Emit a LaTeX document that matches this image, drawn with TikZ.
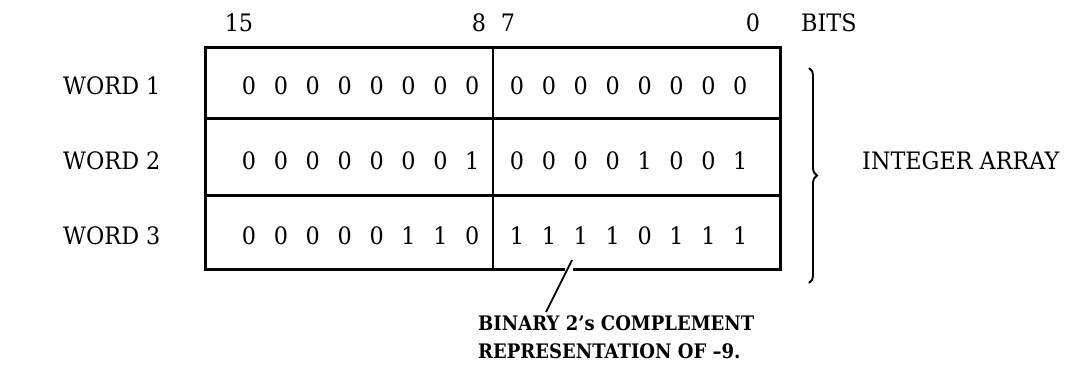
\documentclass[tikz,border=0pt]{standalone}
\usepackage{fontspec}
\setmainfont{DejaVu Serif}
\newfontfamily\labelfont[FakeStretch=0.93,Ligatures=TeX]{DejaVu Serif}
\newfontfamily\notefont[FakeStretch=0.9,Ligatures=TeX]{DejaVu Serif}
\usetikzlibrary{decorations.pathreplacing}
\begin{document}
\begin{tikzpicture}[x=1pt,y=-1pt,
  lbl/.style={font=\labelfont\fontsize{24}{28}\selectfont, inner sep=0pt},
  bit/.style={lbl, anchor=center},
  frame/.style={line width=3pt, line cap=rect},
  divider/.style={line width=2.4pt},
  note/.style={font=\notefont\bfseries\fontsize{20}{28}\selectfont, inner sep=0pt, anchor=base west},
  lead/.style={line width=1.8pt},
  bracket/.style={line width=1.9pt, decorate, decoration={brace, amplitude=8pt}}]
\useasboundingbox (0,0) rectangle (1081,372);

% outer frame of the three 16-bit words
\coordinate (nw) at (205,47);
\coordinate (ne) at (780,47);
\coordinate (sw) at (205,269);
\coordinate (se) at (780,269);
\coordinate (gapL) at (563,269);
\coordinate (gapR) at (574,269);
\draw[frame] (gapL) -- (sw) -- (nw) -- (ne) -- (se) -- (gapR);

% word separators and the byte divider
\coordinate (r1w) at (205,118);
\coordinate (r1e) at (780,118);
\coordinate (r2w) at (205,195);
\coordinate (r2e) at (780,195);
\coordinate (midt) at (493,47);
\coordinate (midb) at (493,269);
\draw[frame] (r1w) -- (r1e);
\draw[frame] (r2w) -- (r2e);
\draw[divider] (midt) -- (midb);

% bit numbers
\node[lbl] (b15) at (239,23) {15};
\node[lbl] (b8) at (479,23) {8};
\node[lbl] (b7) at (508,23) {7};
\node[lbl] (b0) at (753,23) {0};
\node[lbl, anchor=west] (bits) at (801,23) {BITS};

% word labels
\node[lbl, anchor=west] (w1) at (63,86) {WORD 1};
\node[lbl, anchor=west] (w2) at (63,161) {WORD 2};
\node[lbl, anchor=west] (w3) at (63,236) {WORD 3};

% bit contents: high byte then low byte of each word
\foreach \row/\yy/\bitsval in {1/86/{0,0,0,0,0,0,0,0,0,0,0,0,0,0,0,0},
                               2/161/{0,0,0,0,0,0,0,1,0,0,0,0,1,0,0,1},
                               3/236/{0,0,0,0,0,1,1,0,1,1,1,1,0,1,1,1}} {
  \foreach \b [count=\i from 0] in \bitsval {
    \pgfmathsetmacro{\xx}{\i<8 ? 249+31.9*\i : 517+31.9*(\i-8)}
    \node[bit] (d-\row-\i) at (\xx,\yy) {\b};
  }
}

% brace grouping the words
\coordinate (brtop) at (809,68);
\coordinate (brbot) at (809,283);
\draw[bracket] (brtop) -- (brbot);
\node[lbl, anchor=west] (arr) at (862,161) {INTEGER ARRAY};

% note on the low byte of word 3
\node[note] (cmt1) at (478,330) {BINARY 2’s COMPLEMENT};
\node[note] (cmt2) at (478,358) {REPRESENTATION OF --9.};
\coordinate (leadtop) at (572,260);
\coordinate (leadfoot) at (546,312);
\draw[lead] (leadtop) -- (leadfoot);
\end{tikzpicture}
\end{document}
